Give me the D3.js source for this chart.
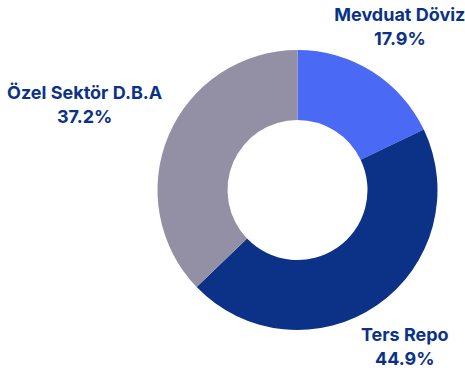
<!DOCTYPE html>
<html>
<head>
<meta charset="utf-8">
<script src="https://cdn.jsdelivr.net/npm/d3@7"></script>
<style>
  html, body { margin: 0; padding: 0; background: #ffffff; }
  svg { display: block; }
  .lbl { font-family: Inter, Roboto, "Noto Sans", sans-serif; font-weight: 700; font-size: 18px; fill: #0b3287; }
</style>
</head>
<body>
<svg id="chart" width="465" height="372"></svg>
<script>
// Portfolio composition (share, %)
const categories = ["Mevduat Döviz", "Ters Repo", "Özel Sektör D.B.A"];
const shares = [17.9, 44.9, 37.2];
const colors = ["#4a69f5", "#0b3287", "#938fa4"];

const width = 465, height = 372;
const cx = 297.5, cy = 190;
const outerR = 140, innerR = 70;
const labelR = 190;

const svg = d3.select("#chart");
const g = svg.append("g").attr("transform", `translate(${cx},${cy})`);

const pie = d3.pie().sort(null).value(d => d.value);
const arcs = pie(categories.map((c, i) => ({ name: c, value: shares[i], color: colors[i] })));

const arc = d3.arc().innerRadius(innerR).outerRadius(outerR);

g.selectAll("path.slice")
  .data(arcs)
  .join("path")
  .attr("class", "slice")
  .attr("d", arc)
  .attr("fill", d => d.data.color);

// Nudges so the two-line labels clear the ring
const labelNudge = { "Mevduat Döviz": [1, 2], "Ters Repo": [-1, 5], "Özel Sektör D.B.A": [-38, -7] };

const labels = g.selectAll("text.lbl")
  .data(arcs)
  .join("text")
  .attr("class", "lbl")
  .attr("text-anchor", "middle")
  .attr("transform", d => {
    const a = (d.startAngle + d.endAngle) / 2;
    const [nx, ny] = labelNudge[d.data.name];
    return `translate(${labelR * Math.sin(a) + nx},${-labelR * Math.cos(a) + ny})`;
  });

labels.append("tspan").attr("x", 0).attr("y", -10).text(d => d.data.name);
labels.append("tspan").attr("x", 0).attr("y", 14).text(d => d.data.value.toFixed(1) + "%");
</script>
</body>
</html>
